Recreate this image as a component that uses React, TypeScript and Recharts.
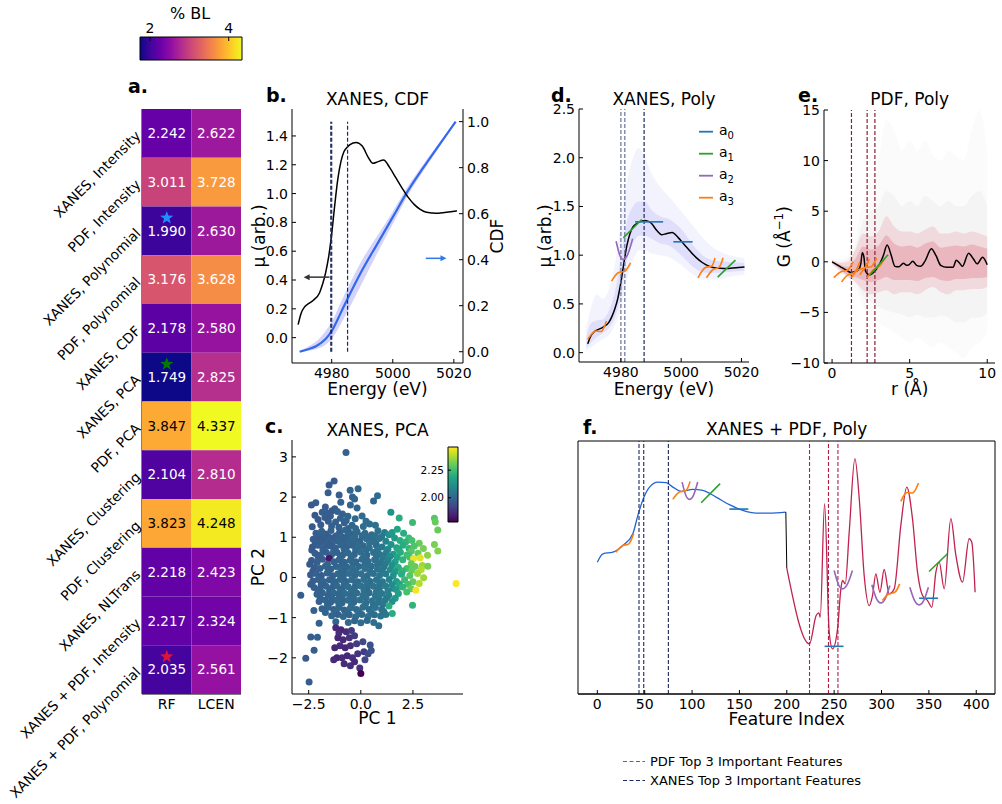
import React from "react";
import {
  ComposedChart,
  ScatterChart,
  Scatter,
  Line,
  Area,
  XAxis,
  YAxis,
  ReferenceLine,
  ReferenceArea,
  ReferenceDot,
} from "recharts";

const INK = "#000";
const TICK = { fontSize: 14, fill: INK };
const AXIS = { stroke: INK, strokeWidth: 1 };

// ---------- a. % BL heatmap ----------
const ROWS = [
  "XANES, Intensity",
  "PDF, Intensity",
  "XANES, Polynomial",
  "PDF, Polynomial",
  "XANES, CDF",
  "XANES, PCA",
  "PDF, PCA",
  "XANES, Clustering",
  "PDF, Clustering",
  "XANES, NLTrans",
  "XANES + PDF, Intensity",
  "XANES + PDF, Polynomial",
];
const RF_BL = [2.242, 3.011, 1.99, 3.176, 2.178, 1.749, 3.847, 2.104, 3.823, 2.218, 2.217, 2.035];
const LCEN_BL = [2.622, 3.728, 2.63, 3.628, 2.58, 2.825, 4.337, 2.81, 4.248, 2.423, 2.324, 2.561];
const MODELS = ["RF", "LCEN"];
const BEST = [
  { row: 2, color: "#1e8fff" },
  { row: 5, color: "#007a00" },
  { row: 11, color: "#dc143c" },
];
const BL_RANGE = [Math.min(...RF_BL, ...LCEN_BL), Math.max(...RF_BL, ...LCEN_BL)];
const BL_TICKS = [2, 4];

// ---------- b. XANES, CDF ----------
const E_TICKS = [4980, 5000, 5020];
const MU_E = [4969, 4970, 4971, 4972, 4974, 4976, 4977, 4978, 4979, 4980, 4981, 4982, 4983, 4984, 4985, 4986, 4988, 4990, 4992, 4993.5, 4995, 4997, 4999, 5001, 5003, 5005, 5007, 5009, 5011, 5013, 5015, 5017, 5019, 5021];
const MU_MEAN = [0.09, 0.17, 0.21, 0.23, 0.26, 0.31, 0.37, 0.45, 0.56, 0.72, 0.92, 1.1, 1.22, 1.29, 1.32, 1.34, 1.355, 1.33, 1.25, 1.21, 1.22, 1.233, 1.18, 1.11, 1.04, 0.975, 0.925, 0.89, 0.87, 0.865, 0.863, 0.868, 0.874, 0.88];
const CDF_E = [4969.5, 4972, 4975, 4978, 4980, 4983, 4985, 4990, 4995, 5000, 5005, 5010, 5015, 5020.6];
const CDF_MID = [0.0, 0.01, 0.025, 0.055, 0.09, 0.17, 0.225, 0.355, 0.47, 0.585, 0.7, 0.8, 0.895, 1.0];
const CDF_LO = [0.0, 0.003, 0.012, 0.03, 0.055, 0.12, 0.17, 0.3, 0.43, 0.555, 0.68, 0.785, 0.885, 0.995];
const CDF_HI = [0.005, 0.02, 0.045, 0.09, 0.13, 0.215, 0.27, 0.4, 0.505, 0.61, 0.72, 0.815, 0.905, 1.0];
const B_MU_TICKS = [0, 0.2, 0.4, 0.6, 0.8, 1.0, 1.2, 1.4];
const B_CDF_TICKS = [0, 0.2, 0.4, 0.6, 0.8, 1.0];
const B_FEATURES = [4979.7, 4980.0, 4985.2];

// ---------- d. XANES, Poly ----------
const D_TICKS = [0, 0.5, 1.0, 1.5, 2.0, 2.5];
const D_BAND_E = [4968.5, 4970, 4972, 4974, 4976, 4978, 4980, 4982, 4984, 4986, 4988, 4990, 4993, 4996, 5000, 5004, 5008, 5012, 5016, 5021];
const D_OUT_LO = [0.02, 0.05, 0.1, 0.14, 0.18, 0.28, 0.45, 0.75, 0.95, 1.05, 1.05, 1.02, 1.0, 0.98, 0.9, 0.8, 0.75, 0.75, 0.78, 0.8];
const D_OUT_HI = [0.25, 0.45, 0.6, 0.55, 0.65, 0.9, 1.35, 1.75, 2.0, 2.1, 2.0, 1.85, 1.7, 1.6, 1.45, 1.3, 1.15, 1.05, 1.0, 0.97];
const D_IN_LO = [0.05, 0.1, 0.16, 0.2, 0.25, 0.36, 0.58, 0.95, 1.12, 1.2, 1.2, 1.17, 1.12, 1.1, 1.0, 0.88, 0.82, 0.82, 0.83, 0.84];
const D_IN_HI = [0.15, 0.3, 0.33, 0.34, 0.43, 0.62, 0.98, 1.35, 1.5, 1.55, 1.55, 1.47, 1.4, 1.37, 1.27, 1.1, 0.98, 0.94, 0.93, 0.92];
const D_FEATURES = [4980.0, 4981.3, 4987.7];
const D_A0 = [
  [[4984.7, 1.342], [4994.0, 1.342]],
  [[4997.4, 1.137], [5003.8, 1.137]],
];
const D_A1 = [
  [[4980.8, 1.178], [4986.9, 1.366]],
  [[5012.1, 0.775], [5018.0, 0.949]],
];
const D_A2 = [[[4978.4, 1.143], [4979.6, 1.003], [4980.8, 0.956], [4982.3, 1.01], [4983.9, 1.17]]];
const D_A3 = [
  [[4976.9, 0.734], [4979.1, 0.82], [4981.3, 0.836], [4983.2, 0.922]],
  [[4969.0, 0.136], [4971.4, 0.22], [4973.6, 0.22], [4975.2, 0.324]],
  [[5005.6, 0.768], [5007.9, 0.871], [5010.1, 0.887], [5011.2, 0.973]],
  [[5008.4, 0.768], [5010.6, 0.853], [5012.6, 0.877], [5013.9, 0.973]],
];

// ---------- e. PDF, Poly ----------
const R_TICKS = [0, 5, 10];
const G_TICKS = [-10, -5, 0, 5, 10, 15];
const E_R = [0, 0.5, 1.0, 1.2, 1.5, 1.7, 1.85, 1.95, 2.05, 2.15, 2.4, 2.7, 3.0, 3.3, 3.55, 3.8, 4.05, 4.3, 4.6, 4.8, 4.95, 5.2, 5.45, 5.7, 6.0, 6.4, 6.7, 7.0, 7.4, 7.8, 8.0, 8.2, 8.4, 8.8, 9.1, 9.35, 9.7, 10.0];
const E_G = [0.0, -0.45, -0.9, -1.05, -0.95, -0.8, -0.2, 0.9, 0.5, -0.9, -1.3, -1.0, -0.4, 0.6, 1.65, 0.7, -0.45, -0.5, -0.15, -0.35, -0.3, 0.05, -0.35, -0.45, 0.1, 1.3, 0.6, -0.35, -0.55, -0.55, 0.15, -0.1, -0.45, 0.85, 0.3, -0.2, 0.45, -0.3];
const E_BAND_R = [0, 0.5, 1.0, 1.5, 2.0, 2.5, 3.0, 3.5, 4.0, 4.5, 5.0, 5.5, 6.0, 6.5, 7.0, 7.5, 8.0, 8.5, 9.0, 9.5, 10.0];
const GRAY_OUT_LO = [-0.3, -1.0, -1.6, -2.5, -4.5, -5.5, -6, -6.5, -7, -7.5, -8, -7.5, -8, -8.5, -8, -8.5, -9, -9.5, -8.5, -8, -7];
const GRAY_OUT_HI = [0.3, 0.2, 0.6, 2.5, 6, 8, 10, 14, 13, 11, 12, 11, 12, 10.5, 10, 11, 10.5, 10, 13, 15, 11];
const GRAY_IN_LO = [-0.2, -0.8, -1.4, -2, -3.5, -4, -4.5, -4.8, -5, -5.2, -5.5, -5.2, -5.5, -5.5, -5.3, -5.5, -6, -6, -5.5, -5.5, -5];
const GRAY_IN_HI = [0.2, 0.0, 0.3, 1.5, 4, 5, 5.5, 7, 6.5, 5.5, 6, 5.5, 6.5, 6, 5.5, 6, 5.5, 5.5, 6.5, 7, 5.5];
const RED_OUT_LO = [-0.2, -0.9, -1.5, -2.0, -2.8, -3.2, -3.0, -2.8, -3.2, -3.0, -3.0, -3.2, -2.8, -2.5, -3.0, -3.2, -2.8, -2.8, -2.7, -2.7, -2.5];
const RED_OUT_HI = [0.2, -0.1, 0.0, 1.2, 2.8, 2.5, 3.0, 4.5, 3.5, 3.0, 3.0, 2.8, 3.2, 3.5, 2.8, 2.8, 3.0, 2.8, 3.0, 2.8, 2.5];
const RED_IN_LO = [-0.1, -0.7, -1.3, -1.5, -1.8, -2.0, -1.8, -1.5, -1.8, -1.8, -1.8, -1.9, -1.6, -1.5, -1.8, -1.9, -1.7, -1.7, -1.6, -1.6, -1.5];
const RED_IN_HI = [0.1, -0.3, -0.5, 0.3, 1.5, 1.2, 1.6, 2.6, 1.8, 1.5, 1.6, 1.4, 1.8, 2.0, 1.4, 1.5, 1.6, 1.5, 1.7, 1.5, 1.3];
const E_FEATURES = [1.25, 2.26, 2.76];
const E_A1 = [[[2.43, -1.29], [3.61, 0.69]]];
const E_A3 = [
  [[0.11, -1.56], [0.61, -0.96], [1.03, -0.8], [1.36, 0.03]],
  [[0.61, -2.0], [1.03, -1.29], [1.46, -1.02], [1.79, 0.03]],
  [[1.25, -1.56], [1.68, -0.8], [2.11, -0.57], [2.39, 0.29]],
  [[1.79, -1.29], [2.17, -0.57], [2.54, -0.47], [2.87, 0.36]],
  [[2.26, -1.6], [2.65, -0.8], [3.03, -0.47], [3.4, 0.36]],
];

// ---------- c. XANES, PCA ----------
const PC1_TICKS = [-2.5, 0, 2.5];
const PC2_TICKS = [-2, -1, 0, 1, 2, 3];
const PCA_RANGE = [1.78, 2.46];
const PCA_CB_TICKS = [2.0, 2.25];
// [PC 1, PC 2, % BL]
const PCA = [
  [-0.71, 3.11, 1.99], [-1.28, 2.4, 1.98], [-1.52, 2.3, 1.97], [-1.57, 2.11, 1.98], [-0.51, 2.17, 2.0], [-0.13, 2.21, 2.01],
  [-0.4, 2.0, 1.99], [-1.04, 2.05, 1.98], [-0.96, 1.87, 1.99], [0.8, 2.03, 2.02], [0.61, 1.9, 2.0], [-2.37, 1.8, 1.97],
  [-2.16, 1.86, 1.98], [-0.18, 1.73, 2.0], [-1.25, 1.71, 1.98], [-1.38, 1.66, 1.97], [-1.12, 1.64, 1.99], [-1.46, 1.53, 1.98],
  [-0.88, 1.58, 1.99], [-0.62, 1.52, 2.0], [-1.72, 1.49, 1.98], [-2.05, 1.44, 1.97], [-0.27, 1.46, 2.01], [0.06, 1.53, 2.02],
  [1.44, 1.62, 2.12], [1.84, 1.48, 2.2], [2.48, 1.37, 2.24], [3.53, 1.47, 2.28], [3.57, 1.38, 2.3], [3.69, 1.18, 2.3],
  [-1.56, 1.4, 1.98], [-1.21, 1.38, 1.99], [-0.79, 1.36, 1.99], [-0.42, 1.3, 2.0], [0.12, 1.27, 2.02], [0.42, 1.33, 2.02],
  [-2.33, 1.26, 1.97], [-1.92, 1.31, 1.98],
  [-2.2, 1.55, 1.97], [-1.85, 1.62, 1.98], [-1.6, 1.6, 1.98], [-0.98, 1.47, 1.99], [-0.7, 1.42, 2.0], [-1.4, 1.28, 1.99],
  [-1.05, 1.25, 1.99], [-0.6, 1.22, 2.0], [-0.25, 1.22, 2.01], [0.25, 1.4, 2.02], [0.7, 1.3, 2.03], [-1.7, 1.75, 1.98],
  [-0.5, 1.8, 2.0], [-0.3, 1.95, 2.0],
  [-2.15, 1.1, 1.98], [-1.88, 1.15, 1.99], [-1.68, 1.08, 1.98], [-1.43, 1.17, 1.99], [-1.02, 1.12, 1.98], [-0.74, 1.18, 2.0],
  [-0.47, 1.09, 2.0], [-0.18, 1.14, 2.01], [0.2, 1.1, 2.02], [0.52, 1.06, 2.03], [0.82, 1.16, 2.03], [1.14, 1.12, 2.06], [1.35, 1.06, 2.12],
  [-2.05, 1.02, 1.98], [-1.78, 1.05, 1.99], [-1.52, 1.0, 1.98], [-1.18, 1.04, 1.99], [-0.9, 1.01, 2.0], [-0.62, 1.05, 2.0],
  [-0.3, 1.02, 2.01], [0.05, 1.04, 2.02], [0.38, 1.0, 2.02], [0.7, 1.03, 2.03], [1.0, 1.01, 2.05], [1.5, 1.12, 2.14],
  [1.75, 1.2, 2.18], [2.05, 1.1, 2.2], [2.3, 0.98, 2.24],
  [-2.28, 0.95, 1.98], [-2.02, 0.9, 1.97], [-1.8, 0.98, 1.98], [-1.55, 0.93, 1.99], [-1.3, 0.99, 1.98], [-1.08, 0.9, 2.0],
  [-0.85, 0.96, 1.99], [-0.6, 0.92, 2.0], [-0.33, 0.98, 2.01], [-0.05, 0.91, 2.0], [0.27, 0.96, 2.02], [0.58, 0.9, 2.02],
  [0.88, 0.97, 2.04], [1.62, 0.98, 2.15], [1.88, 0.92, 2.2],
  [-2.18, 0.86, 1.98], [-1.92, 0.88, 1.98], [-1.64, 0.85, 1.99], [-1.36, 0.87, 1.99], [-0.75, 0.86, 2.0], [-0.48, 0.88, 2.01],
  [-0.2, 0.85, 2.01], [0.42, 0.87, 2.03], [0.72, 0.85, 2.03], [1.2, 0.9, 2.08], [2.15, 0.88, 2.22], [2.45, 0.92, 2.26], [2.8, 0.85, 2.3],
  [-2.32, 0.76, 1.97], [-2.06, 0.8, 1.98], [-1.76, 0.74, 1.99], [-1.49, 0.79, 1.98], [-1.22, 0.73, 1.99], [-0.96, 0.81, 2.0],
  [-0.69, 0.75, 1.99], [-0.41, 0.8, 2.0], [-0.14, 0.74, 2.02], [0.12, 0.79, 2.01], [0.41, 0.73, 2.03], [0.74, 0.8, 2.02],
  [1.02, 0.76, 2.05], [1.45, 0.82, 2.12], [1.72, 0.74, 2.18], [2.02, 0.8, 2.2], [2.31, 0.72, 2.22], [2.56, 0.78, 2.27], [3.53, 0.82, 2.32],
  [-2.35, 0.68, 1.97], [-1.82, 0.69, 1.99], [-1.3, 0.67, 1.99], [-0.8, 0.7, 2.0], [-0.25, 0.68, 2.01], [0.26, 0.7, 2.02],
  [0.8, 0.68, 2.04], [1.3, 0.7, 2.1], [1.82, 0.69, 2.19], [2.42, 0.66, 2.28], [3.0, 0.72, 2.32], [3.2, 0.55, 2.34],
  [-2.2, 0.6, 1.98], [-1.94, 0.56, 1.99], [-1.66, 0.63, 1.98], [-1.4, 0.57, 2.0], [-1.14, 0.62, 1.99], [-0.88, 0.55, 2.0],
  [-0.61, 0.61, 2.01], [-0.31, 0.57, 2.0], [0.0, 0.63, 2.02], [0.29, 0.56, 2.01], [0.61, 0.62, 2.03], [0.91, 0.57, 2.04],
  [1.21, 0.61, 2.06], [1.56, 0.58, 2.15], [1.9, 0.63, 2.2], [2.21, 0.56, 2.25], [2.74, 0.6, 2.3], [3.69, 0.66, 2.33],
  [-2.05, 0.52, 1.98], [-1.5, 0.51, 1.99], [-0.98, 0.5, 2.0], [-0.45, 0.52, 2.01], [0.15, 0.5, 2.02], [0.75, 0.51, 2.03],
  [1.08, 0.5, 2.05], [1.4, 0.53, 2.1], [1.75, 0.5, 2.18], [2.35, 0.5, 2.26],
  [-2.36, 0.42, 1.98], [-2.1, 0.38, 1.99], [-1.84, 0.45, 1.98], [-1.52, 0.47, 1.82], [-1.29, 0.39, 1.99], [-1.04, 0.44, 2.0],
  [-0.79, 0.38, 2.0], [-0.51, 0.43, 2.01], [-0.24, 0.39, 2.0], [0.05, 0.45, 2.02], [0.34, 0.4, 2.02], [0.66, 0.44, 2.03],
  [0.96, 0.38, 2.04], [1.31, 0.43, 2.08], [1.65, 0.39, 2.16], [2.01, 0.44, 2.22], [2.53, 0.47, 2.44], [2.85, 0.49, 2.43],
  [-2.45, 0.33, 1.97], [-1.6, 0.33, 1.99], [-0.9, 0.32, 2.0], [-0.38, 0.34, 2.01], [0.2, 0.33, 2.02], [0.8, 0.32, 2.03],
  [1.18, 0.34, 2.06], [1.5, 0.31, 2.12], [2.42, 0.34, 2.3], [2.95, 0.3, 2.36],
  [-2.22, 0.25, 1.98], [-1.96, 0.22, 1.99], [-1.7, 0.28, 2.0], [-1.44, 0.21, 1.99], [-1.19, 0.27, 2.0], [-0.94, 0.2, 2.01],
  [-0.68, 0.26, 2.0], [-0.4, 0.21, 2.02], [-0.1, 0.27, 2.01], [0.2, 0.22, 2.03], [0.5, 0.28, 2.02], [0.8, 0.21, 2.04],
  [1.1, 0.26, 2.05], [1.42, 0.2, 2.1], [1.8, 0.25, 2.2], [2.2, 0.22, 2.26], [2.6, 0.27, 2.3], [3.21, 0.28, 2.32],
  [-2.3, 0.16, 1.98], [-1.55, 0.16, 1.99], [-0.8, 0.15, 2.0], [-0.25, 0.16, 2.02], [0.45, 0.15, 2.03], [1.0, 0.17, 2.05],
  [1.65, 0.15, 2.15], [2.0, 0.16, 2.22], [2.45, 0.18, 2.3], [2.9, 0.2, 2.38],
  [-2.41, 0.07, 1.98], [-2.15, 0.1, 1.99], [-1.89, 0.05, 1.98], [-1.61, 0.11, 2.0], [-1.35, 0.04, 1.99], [-1.1, 0.09, 2.01],
  [-0.84, 0.03, 2.0], [-0.56, 0.1, 2.02], [-0.29, 0.05, 2.01], [0.01, 0.09, 2.03], [0.31, 0.04, 2.02], [0.6, 0.1, 2.03],
  [0.9, 0.05, 2.05], [1.2, 0.09, 2.06], [1.55, 0.04, 2.12], [1.95, 0.08, 2.2], [2.35, 0.05, 2.28], [2.72, 0.1, 2.36],
  [-2.3, -0.09, 1.98], [-2.04, -0.05, 1.99], [-1.79, -0.1, 2.0], [-1.5, -0.06, 1.99], [-1.24, -0.11, 2.0], [-0.99, -0.05, 2.01],
  [-0.71, -0.1, 2.0], [-0.44, -0.06, 2.02], [-0.15, -0.11, 2.01], [0.14, -0.05, 2.03], [0.45, -0.1, 2.02], [0.75, -0.06, 2.04],
  [1.04, -0.11, 2.05], [1.36, -0.05, 2.08], [1.71, -0.1, 2.15], [2.1, -0.06, 2.24], [2.5, -0.11, 2.3], [3.01, -0.01, 2.36],
  [4.57, -0.15, 2.46],
  [-2.4, -0.17, 1.98], [-1.9, -0.18, 1.99], [-1.3, -0.16, 2.0], [-0.8, -0.17, 2.01], [-0.25, -0.18, 2.02], [0.3, -0.16, 2.03],
  [0.9, -0.17, 2.04], [1.5, -0.18, 2.1], [1.85, -0.16, 2.18], [2.25, -0.17, 2.26], [2.8, -0.15, 2.38],
  [-2.24, -0.25, 1.98], [-1.96, -0.28, 1.99], [-1.66, -0.22, 2.0], [-1.39, -0.27, 1.99], [-1.14, -0.21, 2.01], [-0.89, -0.28, 2.0],
  [-0.6, -0.23, 2.02], [-0.31, -0.27, 2.01], [0.0, -0.21, 2.03], [0.3, -0.28, 2.02], [0.6, -0.22, 2.04], [0.89, -0.27, 2.03],
  [1.19, -0.21, 2.06], [1.54, -0.27, 2.1], [2.0, -0.24, 2.22], [2.41, -0.28, 2.3], [2.64, -0.32, 2.45],
  [-2.05, -0.34, 1.99], [-1.5, -0.33, 2.0], [-1.0, -0.35, 2.01], [-0.45, -0.34, 2.02], [0.15, -0.33, 2.03], [0.75, -0.35, 2.04],
  [1.3, -0.34, 2.07], [1.7, -0.3, 2.14], [2.2, -0.36, 2.26],
  [-2.88, -0.44, 1.98], [-2.1, -0.42, 1.99], [-1.84, -0.38, 2.0], [-1.56, -0.44, 1.99], [-1.3, -0.39, 2.01], [-1.04, -0.45, 2.0],
  [-0.76, -0.4, 2.02], [-0.49, -0.45, 2.01], [-0.2, -0.39, 2.02], [0.1, -0.44, 2.03], [0.4, -0.38, 2.02], [0.7, -0.45, 2.04],
  [1.0, -0.4, 2.05], [1.34, -0.44, 2.07], [1.8, -0.4, 2.16],
  [-1.95, -0.51, 1.99], [-1.4, -0.5, 2.0], [-0.9, -0.52, 2.01], [-0.35, -0.51, 2.02], [0.25, -0.5, 2.03], [0.85, -0.52, 2.04],
  [1.25, -0.5, 2.06], [1.65, -0.52, 2.15],
  [-2.0, -0.6, 1.99], [-1.71, -0.56, 2.0], [-1.45, -0.62, 1.99], [-1.19, -0.57, 2.01], [-0.9, -0.63, 2.0], [-0.61, -0.57, 2.02],
  [-0.34, -0.62, 2.01], [-0.05, -0.56, 2.03], [0.25, -0.63, 2.02], [0.55, -0.58, 2.04], [0.85, -0.62, 2.03], [1.15, -0.57, 2.05],
  [1.5, -0.6, 2.12], [2.48, -0.69, 2.22],
  [-1.6, -0.68, 2.0], [-1.05, -0.69, 2.01], [-0.45, -0.7, 2.02], [0.2, -0.68, 2.03], [0.6, -0.7, 2.03], [1.05, -0.67, 2.05],
  [-1.86, -0.78, 1.99], [-1.56, -0.74, 2.0], [-1.3, -0.8, 1.99], [-1.04, -0.75, 2.01], [-0.79, -0.81, 2.0], [-0.5, -0.76, 2.02],
  [-0.21, -0.8, 2.01], [0.1, -0.74, 2.03], [0.4, -0.8, 2.02], [0.7, -0.75, 2.04], [1.0, -0.8, 2.03], [1.35, -0.71, 2.2], [1.51, -0.9, 2.2],
  [-1.7, -0.87, 2.0], [-1.2, -0.86, 2.01], [-0.65, -0.88, 2.01], [-0.1, -0.86, 2.02], [0.5, -0.88, 2.03], [1.1, -0.85, 2.04],
  [-1.4, -0.95, 2.0], [-1.1, -0.92, 1.99], [-0.84, -0.97, 2.01], [-0.55, -0.93, 2.0], [-0.25, -0.98, 2.02], [0.05, -0.92, 2.01],
  [0.35, -0.97, 2.03], [0.65, -0.93, 2.02], [0.95, -0.96, 2.04], [1.2, -0.92, 2.05],
  [-2.0, -1.14, 1.99], [-1.2, -1.1, 2.0], [-0.6, -1.12, 2.01], [-0.3, -1.08, 2.0], [0.0, -1.13, 2.02], [0.3, -1.07, 2.01],
  [0.62, -1.12, 2.03], [0.86, -1.2, 2.02],
  [-2.4, -1.48, 1.98], [-2.08, -1.49, 1.99], [-2.24, -1.81, 1.98], [-2.64, -2.01, 1.97], [-2.48, -2.6, 1.98], [-2.25, -0.82, 1.99],
  [-1.2, -1.25, 1.86], [-0.95, -1.3, 1.85], [-0.7, -1.35, 1.87], [-1.1, -1.5, 1.85], [-0.85, -1.55, 1.86], [-0.55, -1.5, 1.88],
  [-0.3, -1.45, 1.9], [-1.25, -1.75, 1.85], [-1.0, -1.7, 1.86], [-0.75, -1.75, 1.85], [-0.5, -1.7, 1.87], [-0.2, -1.65, 1.9],
  [0.1, -1.6, 1.93], [0.45, -1.68, 1.95], [-1.15, -2.0, 1.85], [-0.9, -2.0, 1.86], [-0.65, -1.95, 1.85], [-0.4, -2.0, 1.87],
  [-0.15, -1.9, 1.88], [0.15, -1.85, 1.9], [0.2, -2.05, 1.92], [-0.8, -2.15, 1.86], [-0.5, -2.2, 1.87], [-0.3, -2.1, 1.86],
  [-0.05, -2.25, 1.88], [0.0, -2.39, 1.78], [-1.3, -2.05, 1.86], [0.35, -1.9, 1.93], [0.5, -1.82, 1.95], [-1.05, -1.38, 1.87],
  [-0.45, -1.32, 1.9],
];

// ---------- f. XANES + PDF, Poly ----------
const IDX_TICKS = [0, 50, 100, 150, 200, 250, 300, 350, 400];
const F_X_IDX = [0, 5.9, 16.4, 27, 37.5, 42.8, 48.8, 55.1, 63.9, 72.7, 79.7, 88.5, 100.8, 111.3, 125.3, 139.4, 153.5, 167.5, 181.5, 199];
const F_X_VAL = [131.6, 140, 141.6, 148.3, 160, 178.3, 195.6, 206.6, 211.6, 211, 206.6, 202.3, 204.3, 203.3, 196.6, 189, 183.3, 180.6, 180.6, 181.6];
const F_JOIN = [[199, 181.6], [200, 125.6]];
const F_P_IDX = [200, 224, 231, 233.9, 235.3, 239.9, 244.8, 248.3, 253.6, 257.1, 258.8, 261.7, 265.9, 271.9, 276.5, 281.7, 287, 290.5, 294, 298.3, 302.8, 308.1, 313.4, 320.4, 326.7, 332.7, 338, 343.3, 348.6, 353.1, 357.4, 360.9, 366.2, 373.2, 378.5, 385.5, 392.5, 395.3, 398.8];
const F_P_VAL = [125.6, 50, 78.3, 81, 76.6, 190, 61.6, 45, 65, 105, 113.3, 110, 161.6, 235, 195, 118.3, 88.3, 98.3, 120, 101.6, 124.3, 100, 105, 168.3, 206.6, 175, 121.6, 98.3, 93.3, 86.6, 121.6, 131.6, 105, 175, 138.3, 111.6, 155, 151.6, 101.6];
const F_XANES_FEATURES = [44, 49, 75];
const F_PDF_FEATURES = [224, 244, 254];
const F_A0 = [
  [[139.4, 184.6], [159.4, 184.6]],
  [[239.9, 47.6], [259.9, 47.6]],
  [[339.7, 95.6], [359.7, 95.6]],
];
const F_A1 = [
  [[109.6, 191], [129.6, 210]],
  [[350.2, 122.3], [369.6, 140]],
];
const F_A2 = [
  [[89.5, 211.6], [93.3, 198.6], [97.2, 194.3], [101.6, 198.6], [106, 211.6]],
  [[250, 123.3], [254.4, 109.6], [258.8, 105], [264, 109.6], [269.3, 123.3]],
  [[289.8, 109], [294.5, 95.5], [299.3, 91], [304, 95.3], [308.8, 108.3]],
  [[329.9, 106.6], [334.8, 93.4], [339.7, 89], [344.6, 93.4], [349.5, 106.6]],
];
const F_A3 = [
  [[19.5, 141.6], [27, 148.3], [33.4, 150], [38.3, 160]],
  [[79.7, 194.3], [86.7, 201.6], [93.7, 203.3], [97.9, 212.3]],
  [[300.9, 93.3], [307.9, 100], [314.2, 101.6], [319.2, 110]],
  [[320.4, 192.3], [326.3, 201], [333.4, 201], [339, 210.6]],
];

// ---------- colours / helpers ----------
const PLASMA = ["#0d0887", "#41049d", "#6a00a8", "#8f0da4", "#b12a90", "#cc4778", "#e16462", "#f2844b", "#fca636", "#fcce25", "#f0f921"];
const VIRIDIS = ["#440154", "#482475", "#414487", "#355f8d", "#2a788e", "#21918c", "#22a884", "#44bf70", "#7ad151", "#bddf26", "#fde725"];
const POLY = { a0: "#1f77b4", a1: "#2ca02c", a2: "#9467bd", a3: "#ff7f0e" };
const NAVY = "#1c2a5e";
const WINE = "#8e1f3d";

const rgb = (c: string) => [1, 3, 5].map((i) => parseInt(c.slice(i, i + 2), 16));
function sample(stops: string[], t: number) {
  const u = Math.min(1, Math.max(0, t)) * (stops.length - 1);
  const i = Math.min(stops.length - 2, Math.floor(u));
  const f = u - i;
  const a = rgb(stops[i]);
  const b = rgb(stops[i + 1]);
  return `rgb(${a.map((v, k) => Math.round(v + (b[k] - v) * f)).join(",")})`;
}
const plasma = (v: number) => sample(PLASMA, (v - BL_RANGE[0]) / (BL_RANGE[1] - BL_RANGE[0]));
const viridis = (v: number) => sample(VIRIDIS, (v - PCA_RANGE[0]) / (PCA_RANGE[1] - PCA_RANGE[0]));

const zip = (xs: number[], ys: number[]) => xs.map((x, i) => ({ x, y: ys[i] }));
const band = (xs: number[], lo: number[], hi: number[]) => xs.map((x, i) => ({ x, band: [lo[i], hi[i]] }));
const seg = (s: number[][]) => s.map(([x, y]) => ({ x, y }));
const fmt1 = (v: number) => v.toFixed(1).replace("-", "\u2212");
const fmtInt = (v: number) => String(v).replace("-", "\u2212");

function starPoints(cx: number, cy: number, r: number) {
  const p: string[] = [];
  for (let k = 0; k < 10; k++) {
    const rr = k % 2 ? r * 0.4 : r;
    const a = -Math.PI / 2 + (k * Math.PI) / 5;
    p.push(`${cx + rr * Math.cos(a)},${cy + rr * Math.sin(a)}`);
  }
  return p.join(" ");
}

const axisIn = (size = 4, gap = 4) => ({
  tick: TICK,
  tickSize: -size,
  tickMargin: size + gap,
  axisLine: AXIS,
  tickLine: AXIS,
});

function Box({ l, t, children }: { l: number; t: number; children: React.ReactNode }) {
  return <div style={{ position: "absolute", left: l, top: t }}>{children}</div>;
}

function PolyLines({ segs, color, w = 1.6 }: { segs: number[][][]; color: string; w?: number }) {
  return (
    <>
      {segs.map((s, i) => (
        <Line
          key={`${color}-${i}`}
          data={seg(s)}
          dataKey="y"
          type="natural"
          stroke={color}
          strokeWidth={w}
          dot={false}
          activeDot={false}
          isAnimationActive={false}
        />
      ))}
    </>
  );
}

// ---------- panels ----------
const HM_W = 99;
const HM_H = 585;

function HeatCell(props: any) {
  const { cx, cy, payload } = props;
  const w = HM_W / MODELS.length;
  const h = HM_H / ROWS.length;
  const best = payload.col === 0 ? BEST.find((b) => b.row === payload.row) : undefined;
  return (
    <g>
      <rect x={cx - w / 2} y={cy - h / 2} width={w} height={h} fill={plasma(payload.v)} />
      <text x={cx} y={cy} dy="0.36em" textAnchor="middle" fontSize={13.5} fill={payload.v > 3.8 ? "#000" : "#fff"}>
        {payload.v.toFixed(3)}
      </text>
      {best && <polygon points={starPoints(cx, cy - 13, 7)} fill={best.color} />}
    </g>
  );
}

function RowTick(props: any) {
  const { x, y, payload } = props;
  return (
    <text x={x} y={y} dy="0.35em" textAnchor="end" fontSize={13.8} fill={INK} transform={`rotate(-45 ${x} ${y})`}>
      {ROWS[payload.value]}
    </text>
  );
}

function Heatmap() {
  const cells = ROWS.flatMap((_, r) => [
    { col: 0, row: r, v: RF_BL[r] },
    { col: 1, row: r, v: LCEN_BL[r] },
  ]);
  const rowTicks = ROWS.map((_, i) => i);
  // the bottom axis is tall so the slanted row names have room below the grid
  return (
    <ScatterChart width={250} height={700} margin={{ top: 9, right: 9, bottom: 0, left: 0 }}>
      <Scatter data={cells} shape={HeatCell} isAnimationActive={false} />
      <XAxis dataKey="col" type="number" domain={[-0.5, 1.5]} ticks={[0, 1]} tickFormatter={(v) => MODELS[v]} height={106} {...axisIn(3, 5)} />
      <XAxis xAxisId="top" orientation="top" type="number" domain={[-0.5, 1.5]} ticks={[0, 1]} height={0} tick={false} tickSize={-3} axisLine={AXIS} tickLine={AXIS} />
      <YAxis dataKey="row" type="number" reversed domain={[-0.5, 11.5]} ticks={rowTicks} width={142} {...axisIn(3, 4)} tick={<RowTick />} />
      <YAxis yAxisId="right" orientation="right" type="number" reversed domain={[-0.5, 11.5]} ticks={rowTicks} width={0} tick={false} tickSize={-3} axisLine={AXIS} tickLine={AXIS} />
    </ScatterChart>
  );
}

function PlasmaBar() {
  const ends = BL_RANGE.map((v, i) => ({ v, y: i }));
  return (
    <ComposedChart width={122} height={62} margin={{ top: 0, right: 10, bottom: 2, left: 10 }}>
      <defs>
        <linearGradient id="plasmaH" x1="0" y1="0" x2="1" y2="0">
          {PLASMA.map((c, i) => (
            <stop key={c} offset={i / (PLASMA.length - 1)} stopColor={c} />
          ))}
        </linearGradient>
      </defs>
      <XAxis dataKey="v" orientation="top" type="number" domain={BL_RANGE} ticks={BL_TICKS} height={37} {...axisIn(4, 4)} axisLine={false} />
      <YAxis hide type="number" domain={[0, 1]} />
      <Line data={ends} dataKey="y" stroke="none" dot={false} activeDot={false} isAnimationActive={false} />
      <ReferenceArea x1={BL_RANGE[0]} x2={BL_RANGE[1]} y1={0} y2={1} fill="url(#plasmaH)" fillOpacity={1} stroke={INK} strokeWidth={1} />
    </ComposedChart>
  );
}

function PanelB() {
  const dom: [number, number] = [4967, 5023];
  return (
    <ComposedChart width={260} height={300} margin={{ top: 9, right: 0, bottom: 0, left: 0 }}>
      <XAxis dataKey="x" type="number" domain={dom} ticks={E_TICKS} allowDataOverflow height={37} {...axisIn(4, 5)} />
      <XAxis xAxisId="top" orientation="top" type="number" domain={dom} ticks={E_TICKS} height={0} tick={false} tickSize={-4} axisLine={AXIS} tickLine={AXIS} />
      <YAxis yAxisId="mu" type="number" domain={[-0.176, 1.587]} ticks={B_MU_TICKS} allowDataOverflow width={52} tickFormatter={fmt1} {...axisIn(4, 4)} />
      <YAxis yAxisId="cdf" orientation="right" type="number" domain={[-0.049, 1.055]} ticks={B_CDF_TICKS} allowDataOverflow width={37} tickFormatter={fmt1} {...axisIn(4, 4)} />
      <Area yAxisId="cdf" data={band(CDF_E, CDF_LO, CDF_HI)} dataKey="band" type="monotone" stroke="none" fill="#6f6ff0" fillOpacity={0.3} isAnimationActive={false} />
      <Line yAxisId="cdf" data={zip(CDF_E, CDF_MID)} dataKey="y" type="monotone" stroke="#3468ee" strokeWidth={2.2} dot={false} activeDot={false} isAnimationActive={false} />
      <Line yAxisId="mu" data={zip(MU_E, MU_MEAN)} dataKey="y" type="monotone" stroke="#000" strokeWidth={1.5} dot={false} activeDot={false} isAnimationActive={false} />
      {B_FEATURES.map((e) => (
        <ReferenceLine key={e} yAxisId="cdf" segment={[{ x: e, y: 0 }, { x: e, y: 1 }]} stroke={NAVY} strokeWidth={1.2} strokeDasharray="4 2" />
      ))}
      <ReferenceLine yAxisId="mu" segment={[{ x: 4979.3, y: 0.42 }, { x: 4972, y: 0.42 }]} stroke="#333" strokeWidth={1.5} />
      <ReferenceDot
        yAxisId="mu"
        x={4970.8}
        y={0.42}
        r={0}
        shape={(p: any) => <polygon points={`${p.cx},${p.cy} ${p.cx + 6},${p.cy - 3} ${p.cx + 6},${p.cy + 3}`} fill="#333" />}
      />
      <ReferenceLine yAxisId="cdf" segment={[{ x: 5010.8, y: 0.406 }, { x: 5016.5, y: 0.406 }]} stroke="#2f7ae5" strokeWidth={1.5} />
      <ReferenceDot
        yAxisId="cdf"
        x={5017.6}
        y={0.406}
        r={0}
        shape={(p: any) => <polygon points={`${p.cx},${p.cy} ${p.cx - 6},${p.cy - 3} ${p.cx - 6},${p.cy + 3}`} fill="#2f7ae5" />}
      />
    </ComposedChart>
  );
}

function PanelD() {
  const dom: [number, number] = [4966.1, 5022.5];
  return (
    <ComposedChart width={240} height={300} margin={{ top: 9, right: 11, bottom: 0, left: 0 }}>
      <XAxis dataKey="x" type="number" domain={dom} ticks={E_TICKS} allowDataOverflow height={38} {...axisIn(4, 5)} />
      <XAxis xAxisId="top" orientation="top" type="number" domain={dom} ticks={E_TICKS} height={0} tick={false} tickSize={-4} axisLine={AXIS} tickLine={AXIS} />
      <YAxis type="number" domain={[-0.096, 2.5]} ticks={D_TICKS} allowDataOverflow width={59} tickFormatter={fmt1} {...axisIn(4, 4)} />
      <YAxis yAxisId="right" orientation="right" type="number" domain={[-0.096, 2.5]} ticks={D_TICKS} width={0} tick={false} tickSize={-4} axisLine={AXIS} tickLine={AXIS} />
      <Area data={band(D_BAND_E, D_OUT_LO, D_OUT_HI)} dataKey="band" type="monotone" stroke="none" fill="#9a9af5" fillOpacity={0.12} isAnimationActive={false} />
      <Area data={band(D_BAND_E, D_IN_LO, D_IN_HI)} dataKey="band" type="monotone" stroke="none" fill="#8585f2" fillOpacity={0.18} isAnimationActive={false} />
      <Line data={zip(MU_E, MU_MEAN)} dataKey="y" type="monotone" stroke="#000" strokeWidth={1.5} dot={false} activeDot={false} isAnimationActive={false} />
      {D_FEATURES.map((e, i) => (
        <ReferenceLine key={e} x={e} stroke={i < 2 ? "#6a7299" : NAVY} strokeWidth={1.2} strokeDasharray="4 2" />
      ))}
      <PolyLines segs={D_A0} color={POLY.a0} />
      <PolyLines segs={D_A1} color={POLY.a1} />
      <PolyLines segs={D_A2} color={POLY.a2} />
      <PolyLines segs={D_A3} color={POLY.a3} />
    </ComposedChart>
  );
}

function PanelE() {
  const dom: [number, number] = [-0.52, 10.5];
  return (
    <ComposedChart width={232} height={300} margin={{ top: 10, right: 7, bottom: 0, left: 0 }}>
      <XAxis dataKey="x" type="number" domain={dom} ticks={R_TICKS} allowDataOverflow height={37} {...axisIn(4, 5)} />
      <XAxis xAxisId="top" orientation="top" type="number" domain={dom} ticks={R_TICKS} height={0} tick={false} tickSize={-4} axisLine={AXIS} tickLine={AXIS} />
      <YAxis type="number" domain={[-10, 15]} ticks={G_TICKS} allowDataOverflow width={54} tickFormatter={fmtInt} {...axisIn(4, 4)} />
      <YAxis yAxisId="right" orientation="right" type="number" domain={[-10, 15]} ticks={G_TICKS} width={0} tick={false} tickSize={-4} axisLine={AXIS} tickLine={AXIS} />
      <Area data={band(E_BAND_R, GRAY_OUT_LO, GRAY_OUT_HI)} dataKey="band" type="monotone" stroke="none" fill="#a8a8a8" fillOpacity={0.05} isAnimationActive={false} />
      <Area data={band(E_BAND_R, GRAY_IN_LO, GRAY_IN_HI)} dataKey="band" type="monotone" stroke="none" fill="#a8a8a8" fillOpacity={0.08} isAnimationActive={false} />
      <Area data={band(E_BAND_R, RED_OUT_LO, RED_OUT_HI)} dataKey="band" type="monotone" stroke="none" fill="#dc4a5c" fillOpacity={0.15} isAnimationActive={false} />
      <Area data={band(E_BAND_R, RED_IN_LO, RED_IN_HI)} dataKey="band" type="monotone" stroke="none" fill="#d43c50" fillOpacity={0.22} isAnimationActive={false} />
      <Line data={zip(E_R, E_G)} dataKey="y" type="monotone" stroke="#000" strokeWidth={1.5} dot={false} activeDot={false} isAnimationActive={false} />
      {E_FEATURES.map((r) => (
        <ReferenceLine key={r} x={r} stroke={WINE} strokeWidth={1.2} strokeDasharray="4 2" />
      ))}
      <PolyLines segs={E_A3} color={POLY.a3} />
      <PolyLines segs={E_A1} color={POLY.a1} />
    </ComposedChart>
  );
}

function PcaDot(props: any) {
  const { cx, cy, payload } = props;
  return <circle cx={cx} cy={cy} r={3.5} fill={viridis(payload.v)} />;
}

function PanelC() {
  const dx: [number, number] = [-3.3, 4.9];
  const dy: [number, number] = [-2.9, 3.42];
  const pts = PCA.map(([x, y, v]) => ({ x, y, v }));
  return (
    <ScatterChart width={230} height={300} margin={{ top: 10, right: 7, bottom: 0, left: 0 }}>
      <XAxis dataKey="x" type="number" domain={dx} ticks={PC1_TICKS} allowDataOverflow height={36} tickFormatter={fmt1} {...axisIn(4, 5)} />
      <XAxis xAxisId="top" orientation="top" type="number" domain={dx} ticks={PC1_TICKS} height={0} tick={false} tickSize={-4} axisLine={AXIS} tickLine={AXIS} />
      <YAxis dataKey="y" type="number" domain={dy} ticks={PC2_TICKS} allowDataOverflow width={52} tickFormatter={fmtInt} {...axisIn(4, 4)} />
      <YAxis yAxisId="right" orientation="right" type="number" domain={dy} ticks={PC2_TICKS} width={0} tick={false} tickSize={-4} axisLine={AXIS} tickLine={AXIS} />
      <Scatter data={pts} shape={PcaDot} isAnimationActive={false} />
    </ScatterChart>
  );
}

function ViridisBar() {
  const ends = PCA_RANGE.map((y, i) => ({ x: i, y }));
  return (
    <ComposedChart width={50} height={90} margin={{ top: 7, right: 7, bottom: 8, left: 0 }}>
      <defs>
        <linearGradient id="viridisV" x1="0" y1="1" x2="0" y2="0">
          {VIRIDIS.map((c, i) => (
            <stop key={c} offset={i / (VIRIDIS.length - 1)} stopColor={c} />
          ))}
        </linearGradient>
      </defs>
      <XAxis dataKey="x" type="number" domain={[0, 1]} hide />
      <YAxis type="number" domain={PCA_RANGE} ticks={PCA_CB_TICKS} width={33} tickFormatter={(v) => v.toFixed(2)} tick={{ fontSize: 10.5, fill: INK }} tickSize={-3} tickMargin={7} axisLine={false} tickLine={AXIS} />
      <Line data={ends} dataKey="y" stroke="none" dot={false} activeDot={false} isAnimationActive={false} />
      <ReferenceArea x1={0} x2={1} y1={PCA_RANGE[0]} y2={PCA_RANGE[1]} fill="url(#viridisV)" fillOpacity={1} stroke={INK} strokeWidth={1} />
    </ComposedChart>
  );
}

function PanelF() {
  const dom: [number, number] = [-20.4, 419.8];
  return (
    <ComposedChart width={442} height={300} margin={{ top: 11, right: 7, bottom: 0, left: 18 }}>
      <XAxis dataKey="x" type="number" domain={dom} ticks={IDX_TICKS} allowDataOverflow height={36} {...axisIn(4, 5)} />
      <XAxis xAxisId="top" orientation="top" type="number" domain={dom} ticks={IDX_TICKS} height={0} tick={false} tickSize={-4} axisLine={AXIS} tickLine={AXIS} />
      <YAxis type="number" domain={[0, 252.6]} hide />
      <ReferenceArea x1={dom[0]} x2={dom[1]} y1={0} y2={252.6} fill="none" stroke={INK} strokeWidth={1} />
      <Line data={zip(F_X_IDX, F_X_VAL)} dataKey="y" type="monotone" stroke="#2463d4" strokeWidth={1.3} dot={false} activeDot={false} isAnimationActive={false} />
      <Line data={seg(F_JOIN)} dataKey="y" type="linear" stroke="#000" strokeWidth={1} dot={false} activeDot={false} isAnimationActive={false} />
      <Line data={zip(F_P_IDX, F_P_VAL)} dataKey="y" type="monotone" stroke="#c0234f" strokeWidth={1.3} dot={false} activeDot={false} isAnimationActive={false} />
      {F_XANES_FEATURES.map((i) => (
        <ReferenceLine key={i} x={i} stroke={NAVY} strokeWidth={1.1} strokeDasharray="4 2" />
      ))}
      {F_PDF_FEATURES.map((i) => (
        <ReferenceLine key={i} x={i} stroke="#b01e47" strokeWidth={1.1} strokeDasharray="4 2" />
      ))}
      <PolyLines segs={F_A0} color={POLY.a0} />
      <PolyLines segs={F_A1} color={POLY.a1} />
      <PolyLines segs={F_A2} color={POLY.a2} />
      <PolyLines segs={F_A3} color={POLY.a3} />
    </ComposedChart>
  );
}

// ---------- labels ----------
function VLabel({ x, cy, children }: { x: number; cy: number; children: React.ReactNode }) {
  return (
    <text transform={`translate(${x} ${cy}) rotate(-90)`} textAnchor="middle" fontSize={17}>
      {children}
    </text>
  );
}

function Labels() {
  const letters: [string, number, number][] = [
    ["a.", 128, 93],
    ["b.", 266, 102],
    ["c.", 265, 433],
    ["d.", 551, 102],
    ["e.", 798, 102],
    ["f.", 583, 434],
  ];
  const titles: [string, number, number][] = [
    ["XANES, CDF", 377.5, 105],
    ["XANES, Poly", 664, 105],
    ["PDF, Poly", 909.7, 105],
    ["XANES, PCA", 377.5, 436],
    ["XANES + PDF, Poly", 786.7, 435],
    ["Energy (eV)", 377.5, 395],
    ["Energy (eV)", 664, 395],
    ["r (Å)", 909.7, 395],
    ["PC 1", 377.5, 724],
    ["Feature Index", 786.7, 725],
  ];
  const legend: [string, string, string][] = [
    ["a", "0", POLY.a0],
    ["a", "1", POLY.a1],
    ["a", "2", POLY.a2],
    ["a", "3", POLY.a3],
  ];
  return (
    <svg width={1002} height={804} style={{ position: "absolute", left: 0, top: 0, pointerEvents: "none" }}>
      <text x={190} y={19} textAnchor="middle" fontSize={16}>% BL</text>
      {letters.map(([s, x, y]) => (
        <text key={s} x={x} y={y} fontSize={19} fontWeight="bold">{s}</text>
      ))}
      {titles.map(([s, x, y]) => (
        <text key={`${s}${x}`} x={x} y={y} textAnchor="middle" fontSize={17}>{s}</text>
      ))}
      <VLabel x={265} cy={236}>μ (arb.)</VLabel>
      <VLabel x={503} cy={236}>CDF</VLabel>
      <VLabel x={551} cy={236}>μ (arb.)</VLabel>
      <VLabel x={790} cy={236.7}>
        G (Å<tspan fontSize={12} dy={-7}>−1</tspan><tspan dy={7}>)</tspan>
      </VLabel>
      <VLabel x={263.5} cy={567}>PC 2</VLabel>
      {legend.map(([a, sub, c], i) => {
        const y = 131.7 + i * 22;
        return (
          <g key={sub}>
            <line x1={699} x2={713} y1={y} y2={y} stroke={c} strokeWidth={1.8} />
            <text x={719} y={y + 3.5} fontSize={14}>
              {a}
              <tspan fontSize={10} dy={4}>{sub}</tspan>
            </text>
          </g>
        );
      })}
      <line x1={623} x2={645} y1={761.5} y2={761.5} stroke="#c23a5a" strokeWidth={1.2} strokeDasharray="4 2.5" />
      <text x={650} y={766} fontSize={13}>PDF Top 3 Important Features</text>
      <line x1={623} x2={645} y1={780.5} y2={780.5} stroke={NAVY} strokeWidth={1.2} strokeDasharray="4 2.5" />
      <text x={650} y={785} fontSize={13}>XANES Top 3 Important Features</text>
    </svg>
  );
}

export default function App() {
  return (
    <div
      style={{
        position: "absolute",
        left: 0,
        top: 0,
        width: 1002,
        height: 804,
        background: "#fff",
        fontFamily: "'DejaVu Sans', sans-serif",
        overflow: "hidden",
      }}
    >
      <Box l={130} t={0}><PlasmaBar /></Box>
      <Box l={0} t={100}><Heatmap /></Box>
      <Box l={240} t={100}><PanelB /></Box>
      <Box l={520} t={100}><PanelD /></Box>
      <Box l={770} t={100}><PanelE /></Box>
      <Box l={240} t={430}><PanelC /></Box>
      <Box l={415} t={440}><ViridisBar /></Box>
      <Box l={560} t={430}><PanelF /></Box>
      <Labels />
    </div>
  );
}
